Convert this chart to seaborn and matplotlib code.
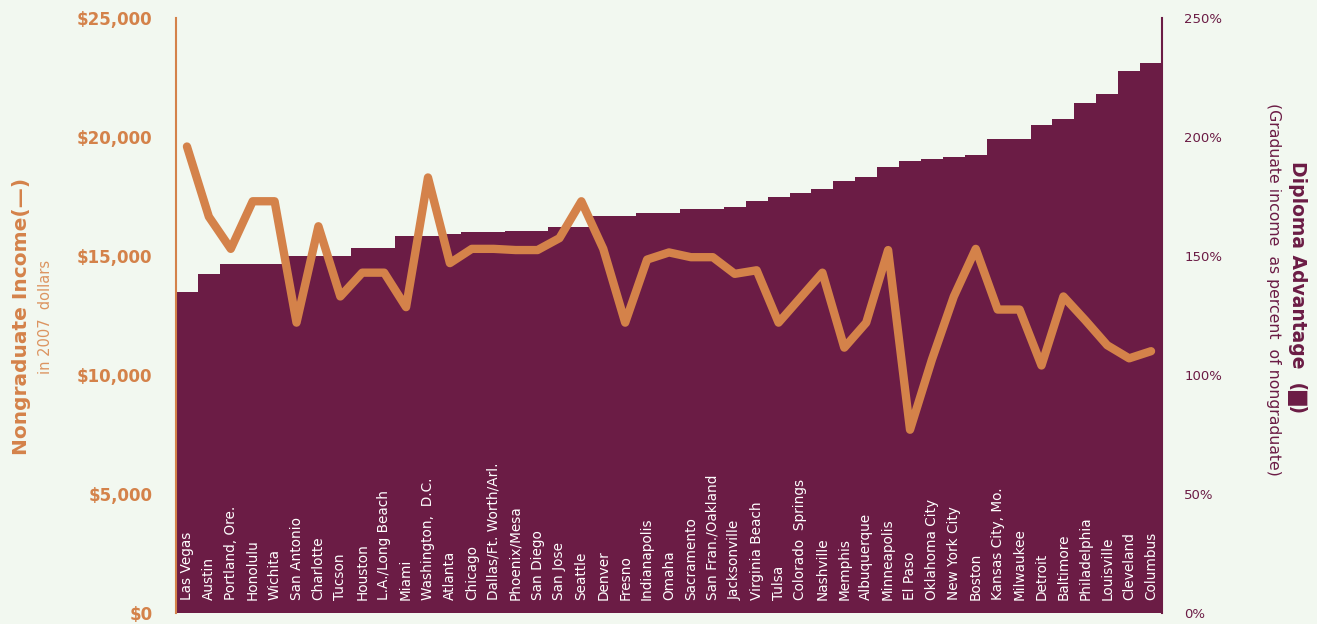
import pandas as pd
import seaborn as sns
import matplotlib.pyplot as plt
import matplotlib.transforms as mtransforms

# City order as printed along the bottom of the chart
cities = ['Las Vegas', 'Austin', 'Portland, Ore.', 'Honolulu', 'Wichita', 'San Antonio',
          'Charlotte', 'Tucson', 'Houston', 'L.A./Long Beach', 'Miami', 'Washington,  D.C.',
          'Atlanta', 'Chicago', 'Dallas/Ft. Worth/Arl.', 'Phoenix/Mesa', 'San Diego',
          'San Jose', 'Seattle', 'Denver', 'Fresno', 'Indianapolis', 'Omaha', 'Sacramento',
          'San Fran./Oakland', 'Jacksonville', 'Virginia Beach', 'Tulsa', 'Colorado  Springs',
          'Nashville', 'Memphis', 'Albuquerque', 'Minneapolis', 'El Paso', 'Oklahoma City',
          'New York City', 'Boston', 'Kansas City, Mo.', 'Milwaukee', 'Detroit', 'Baltimore',
          'Philadelphia', 'Louisville', 'Cleveland', 'Columbus']

# Diploma advantage (%), bars on the right axis
advantage = [134.7, 142.3, 146.5, 146.5, 146.5, 150.0, 150.0, 150.0, 153.2, 153.2,
             158.4, 158.4, 159.1, 160.0, 160.0, 160.6, 160.6, 162.3, 162.3, 166.7,
             166.7, 168.2, 168.2, 169.9, 169.9, 170.7, 173.2, 174.9, 176.6, 178.3,
             181.6, 183.3, 187.5, 190.0, 190.9, 191.7, 192.6, 199.3, 199.3, 205.2,
             207.7, 214.4, 217.9, 227.7, 231.2]

# Nongraduate income (2007 dollars), line on the left axis
income = [19600, 16650, 15300, 17300, 17300, 12200, 16250, 13300, 14300, 14300,
          12850, 18300, 14700, 15300, 15300, 15250, 15250, 15750, 17300, 15300,
          12200, 14850, 15150, 14950, 14950, 14250, 14400, 12200, 13250, 14300,
          11150, 12200, 15250, 7700, 10650, 13300, 15300, 12750, 12750, 10400,
          13300, 12300, 11250, 10700, 11000]

income_ticks = [0, 5000, 10000, 15000, 20000, 25000]
income_ticklabels = ['$0', '$5,000', '$10,000', '$15,000', '$20,000', '$25,000']
pct_ticks = [0, 50, 100, 150, 200, 250]
pct_ticklabels = ['0%', '50%', '100%', '150%', '200%', '250%']

bg = '#f2f8f0'
purple = '#6b1c45'
orange = '#d4824a'

sns.set_style('white', {'axes.facecolor': bg, 'figure.facecolor': bg})
plt.rcParams['font.family'] = ['DejaVu Sans']

df = pd.DataFrame({'city': cities, 'advantage': advantage, 'income': income})
df['pos'] = range(len(df))

fig = plt.figure(figsize=(13.17, 6.24), dpi=100)
ax = fig.add_axes([176 / 1317, 1 - 613 / 624, (1162 - 176) / 1317, (613 - 18) / 624])

# Bars (percent scale)
sns.barplot(data=df, x='city', y='advantage', ax=ax, color=purple, saturation=1,
            width=1.0, linewidth=0)
ax.set_ylim(0, 250)
ax.set_xlim(-0.5, len(df) - 0.5)

# Line (dollar scale) on a twin axis so it sits above the bars
ax2 = ax.twinx()
sns.lineplot(data=df, x='pos', y='income', ax=ax2, color=orange, linewidth=6,
             solid_capstyle='round', solid_joinstyle='round')
ax2.set_ylim(0, 25000)
ax2.set_xlim(-0.5, len(df) - 0.5)

# Swap sides: percent on the right, dollars on the left
ax.yaxis.tick_right()
ax.yaxis.set_label_position('right')
ax2.yaxis.tick_left()
ax2.yaxis.set_label_position('left')

ax.set_yticks(pct_ticks)
ax.set_yticklabels(pct_ticklabels, color=purple, fontsize=9.5)
ax2.set_yticks(income_ticks)
ax2.set_yticklabels(income_ticklabels, color=orange, fontsize=12, fontweight='bold')
ax.tick_params(axis='y', length=0, pad=16)
ax2.tick_params(axis='y', length=0, pad=17)
ax.set_xticks([])
ax.set_xlabel('')
ax.set_ylabel('')
ax2.set_xlabel('')
ax2.set_ylabel('')

for a in (ax, ax2):
    for s in ('top', 'bottom', 'left', 'right'):
        a.spines[s].set_visible(False)
ax2.spines['left'].set_visible(True)
ax2.spines['left'].set_color(orange)
ax2.spines['left'].set_linewidth(1.5)
ax.spines['right'].set_visible(True)
ax.spines['right'].set_color(purple)
ax.spines['right'].set_linewidth(1.5)

# City names inside the bars
trans = mtransforms.blended_transform_factory(ax.transData, ax.transAxes)
for i, name in enumerate(cities):
    ax.text(i, 0.022, name, rotation=90, ha='center', va='bottom', color='white',
            fontsize=9.8, transform=trans, zorder=5)

# Axis titles
fig.text(22 / 1317, 1 - 316 / 624, 'Nongraduate Income(\u2014)', rotation=90,
         ha='center', va='center', color=orange, fontsize=14.5, fontweight='bold')
fig.text(46 / 1317, 1 - 317 / 624, 'in 2007  dollars', rotation=90,
         ha='center', va='center', color='#dc9460', fontsize=10.5)
fig.text(1297 / 1317, 1 - 287 / 624, 'Diploma Advantage  (\u2588)', rotation=270,
         ha='center', va='center', color=purple, fontsize=13.5, fontweight='bold')
fig.text(1273 / 1317, 1 - 289 / 624, '(Graduate income  as percent  of nongraduate)',
         rotation=270, ha='center', va='center', color=purple, fontsize=11.3)

fig.savefig('out.png', dpi=100, facecolor=bg)
